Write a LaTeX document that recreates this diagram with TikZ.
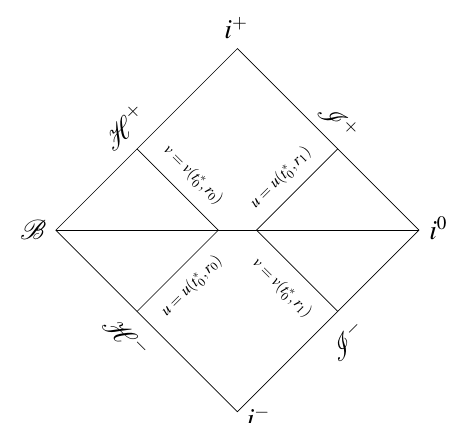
\documentclass[tikz,border=0pt]{standalone}
\usepackage{mathptmx}
\usepackage{mathrsfs}
\usetikzlibrary{positioning}

\begin{document}
\begin{tikzpicture}[scale=1.0, transform shape]
\useasboundingbox (-5.23,-4.23) rectangle (4.75,5.07);

% Corners
\coordinate (iplus) at (0,4);
\coordinate (izero) at (4,0);
\coordinate (iminus) at (0,-4);
\coordinate (bif) at (-4,0);

% Points on the slice
\coordinate (p_left) at (-0.42,0);
\coordinate (p_right) at (0.42,0);

% Ends of the null lines
\coordinate (hp_cut) at (-2.21,1.79);
\coordinate (sp_cut) at (2.21,1.79);
\coordinate (hm_cut) at (-2.21,-1.79);
\coordinate (sm_cut) at (2.21,-1.79);

% Diamond and slice
\draw (bif) -- (iplus) -- (izero) -- (iminus) -- cycle;
\draw (bif) -- (izero);

% Null lines
\draw (p_left) -- (hp_cut);
\draw (p_left) -- (hm_cut);
\draw (p_right) -- (sp_cut);
\draw (p_right) -- (sm_cut);

% Corner labels
\node[anchor=base] (lab_iplus) at (-0.03,4.23) {\LARGE $i^+$};
\node[anchor=base west, inner sep=0] (lab_izero) at (4.22,-0.2) {\LARGE $i^0$};
\node[anchor=north west, inner sep=0] (lab_iminus) at (0.2,-3.88) {\LARGE $i^-$};
\node (lab_bif) at (-4.5,0) {\LARGE $\mathscr{B}$};

% Horizon and scri labels
\node[rotate=45] (lab_hp) at (-2.5,2.27) {\LARGE $\mathscr{H}^+$};
\node[rotate=-45] (lab_sp) at (2.23,2.4) {\LARGE $\mathscr{I}^+$};
\node[rotate=-45] (lab_hm) at (-2.45,-2.35) {\LARGE $\mathscr{H}^-$};
\node[rotate=45] (lab_sm) at (2.41,-2.44) {\LARGE $\mathscr{I}^-$};

% Null line labels
\node[rotate=-45] (lab_v0) at (-0.98,1.21) {$v=v(t_0^*,r_0)$};
\node[rotate=45] (lab_u1) at (0.96,1.15) {$u=u(t_0^*,r_1)$};
\node[rotate=45] (lab_u0) at (-1.0,-1.23) {$u=u(t_0^*,r_0)$};
\node[rotate=-45] (lab_v1) at (0.98,-1.28) {$v=v(t_0^*,r_1)$};

\end{tikzpicture}
\end{document}
